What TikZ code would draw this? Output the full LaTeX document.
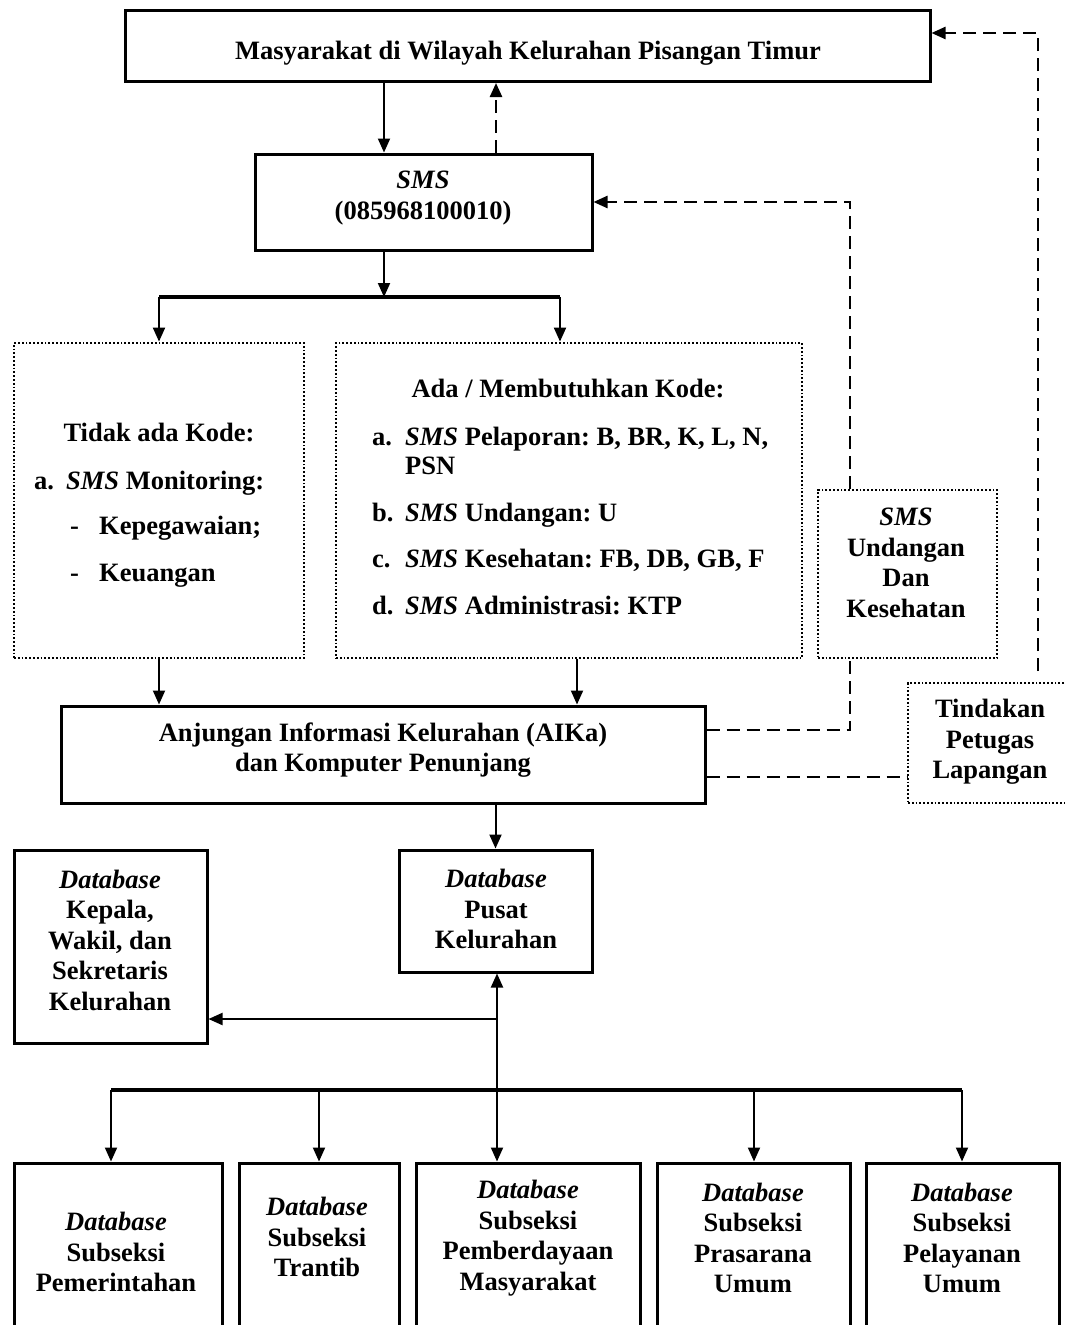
\documentclass[tikz,border=0pt]{standalone}
\usepackage{fontspec}
\setmainfont{Liberation Serif}
\usetikzlibrary{arrows.meta}
\begin{document}
\frenchspacing
\begin{tikzpicture}[x=1pt,y=-1pt,
  font=\fontsize{26.5}{30.5}\selectfont\bfseries,
  box/.style={draw, line width=3pt, inner sep=0pt},
  dotbox/.style={draw, line width=2.8pt, dash pattern=on 1.8pt off 2pt, inner sep=0pt},
  txt/.style={align=center, inner sep=0pt},
  ltxt/.style={anchor=base west, inner sep=0pt},
  arr/.style={line width=2pt, -{Triangle[length=14pt,width=12pt]}},
  darr/.style={line width=2.4pt, dash pattern=on 13pt off 7pt, -{Triangle[length=14pt,width=12pt]}},
  dline/.style={line width=2.4pt, dash pattern=on 13pt off 7pt},
  busl/.style={line width=3.2pt}
]
\useasboundingbox (0,0) rectangle (1065,1325);

% ---------- boxes ----------
\node[box, minimum width=805pt, minimum height=71pt] (top) at (527.5,46) {};
\node[box, minimum width=337pt, minimum height=96pt] (sms) at (423.5,202) {};
\node[dotbox, minimum width=290pt, minimum height=315pt] (left) at (159,500.5) {};
\node[dotbox, minimum width=466pt, minimum height=315pt] (mid) at (569,500.5) {};
\node[dotbox, minimum width=179pt, minimum height=168pt] (und) at (907.5,574) {};
\node[box, minimum width=644pt, minimum height=97pt] (aika) at (383,754.5) {};
\node[dotbox, minimum width=170pt, minimum height=120pt] (tind) at (993,743) {};
\node[box, minimum width=193pt, minimum height=122pt] (dbp) at (495.5,911) {};
\node[box, minimum width=193pt, minimum height=193pt] (dbk) at (110.5,946.5) {};
\node[box, minimum width=208pt, minimum height=190pt] (b1) at (118,1258) {};
\node[box, minimum width=160pt, minimum height=190pt] (b2) at (319,1258) {};
\node[box, minimum width=224pt, minimum height=190pt] (b3) at (528,1258) {};
\node[box, minimum width=193pt, minimum height=190pt] (b4) at (753.5,1258) {};
\node[box, minimum width=193pt, minimum height=190pt] (b5) at (962.5,1258) {};

% ---------- texts ----------
\node[txt] (ttop) at (528,53) {Masyarakat di Wilayah Kelurahan Pisangan Timur};
\node[txt] (tsms) at (423,198) {\itshape SMS\\(085968100010)};

\node[txt] (tleft0) at (159,432) {Tidak ada Kode:};
\node[ltxt] (tleft1) at (34,489) {a.};
\node[ltxt] (tleft1b) at (66,489) {\itshape SMS\upshape\ Monitoring:};
\node[ltxt] (tleft2) at (70,534) {-};
\node[ltxt] (tleft2b) at (99,534) {Kepegawaian;};
\node[ltxt] (tleft3) at (70,581) {-};
\node[ltxt] (tleft3b) at (99,581) {Keuangan};

\node[txt] (tmid0) at (568,388) {Ada / Membutuhkan Kode:};
\node[ltxt] (tma) at (372,445) {a.};
\node[ltxt] (tmab) at (405,445) {\itshape SMS\upshape\ Pelaporan: B, BR, K, L, N,};
\node[ltxt] (tmac) at (405,474) {PSN};
\node[ltxt] (tmb) at (372,521) {b.};
\node[ltxt] (tmbb) at (405,521) {\itshape SMS\upshape\ Undangan: U};
\node[ltxt] (tmc) at (372,567) {c.};
\node[ltxt] (tmcb) at (405,567) {\itshape SMS\upshape\ Kesehatan: FB, DB, GB, F};
\node[ltxt] (tmd) at (372,614) {d.};
\node[ltxt] (tmdb) at (405,614) {\itshape SMS\upshape\ Administrasi: KTP};

\node[txt] (tund) at (906,563) {\itshape SMS\\Undangan\\Dan\\Kesehatan};
\node[txt] (taika) at (383,750) {Anjungan Informasi Kelurahan (AIKa)\\dan Komputer Penunjang};
\node[txt] (ttind) at (990,742) {Tindakan\\Petugas\\Lapangan};
\node[txt] (tdbp) at (496,909) {\itshape Database\\Pusat\\Kelurahan};
\node[txt] (tdbk) at (110,940) {\itshape Database\\Kepala,\\Wakil, dan\\Sekretaris\\Kelurahan};

\node[txt] (tb1) at (116,1252) {\itshape Database\\Subseksi\\Pemerintahan};
\node[txt] (tb2) at (317,1237) {\itshape Database\\Subseksi\\Trantib};
\node[txt] (tb3) at (528,1238) {\itshape Database\\Subseksi\\Pemberdayaan\\Masyarakat};
\node[txt] (tb4) at (753,1238) {\itshape Database\\Subseksi\\Prasarana\\Umum};
\node[txt] (tb5) at (962,1238) {\itshape Database\\Subseksi\\Pelayanan\\Umum};

% ---------- connectors ----------
\coordinate (busA) at (384,297);
\coordinate (busL) at (159,297);
\coordinate (busR) at (560,297);
\draw[arr] (top.south -| busA) -- (sms.north -| busA);
\draw[darr] (sms.north -| 496,0) -- (top.south -| 496,0);
\draw[arr] (sms.south -| busA) -- (busA);
\draw[busl] (busL) -- (busR);
\draw[arr] (busL) -- (left.north);
\draw[arr] (busR) -- (mid.north -| busR);
\draw[arr] (left.south) -- (left.south |- aika.north);
\draw[arr] (mid.south -| 577,0) -- (aika.north -| 577,0);

% dashed feedback
\coordinate (c1) at (850,730);
\coordinate (c2) at (850,202);
\draw[dline] (aika.east |- c1) -- (c1) -- (und.south -| c1);
\draw[darr] (und.north -| c2) -- (c2) -- (sms.east |- c2);
\draw[dline] (aika.east |- 0,777) -- (tind.west |- 0,777);
\coordinate (c3) at (1038,33);
\draw[darr] (1038,671) -- (c3) -- (top.east |- c3);

% database level
\coordinate (busB) at (497,1090);
\coordinate (jk) at (497,1019);
\draw[arr] (aika.south -| dbp.north) -- (dbp.north);
\draw[arr] (busB) -- (dbp.south -| busB);
\draw[arr] (jk) -- (dbk.east |- jk);
\draw[busl] (111,1090) -- (962,1090);
\draw[arr] (111,1090) -- (b1.north -| 111,0);
\draw[arr] (319,1090) -- (b2.north -| 319,0);
\draw[arr] (busB) -- (b3.north -| busB);
\draw[arr] (754,1090) -- (b4.north -| 754,0);
\draw[arr] (962,1090) -- (b5.north -| 962,0);
\end{tikzpicture}
\end{document}
